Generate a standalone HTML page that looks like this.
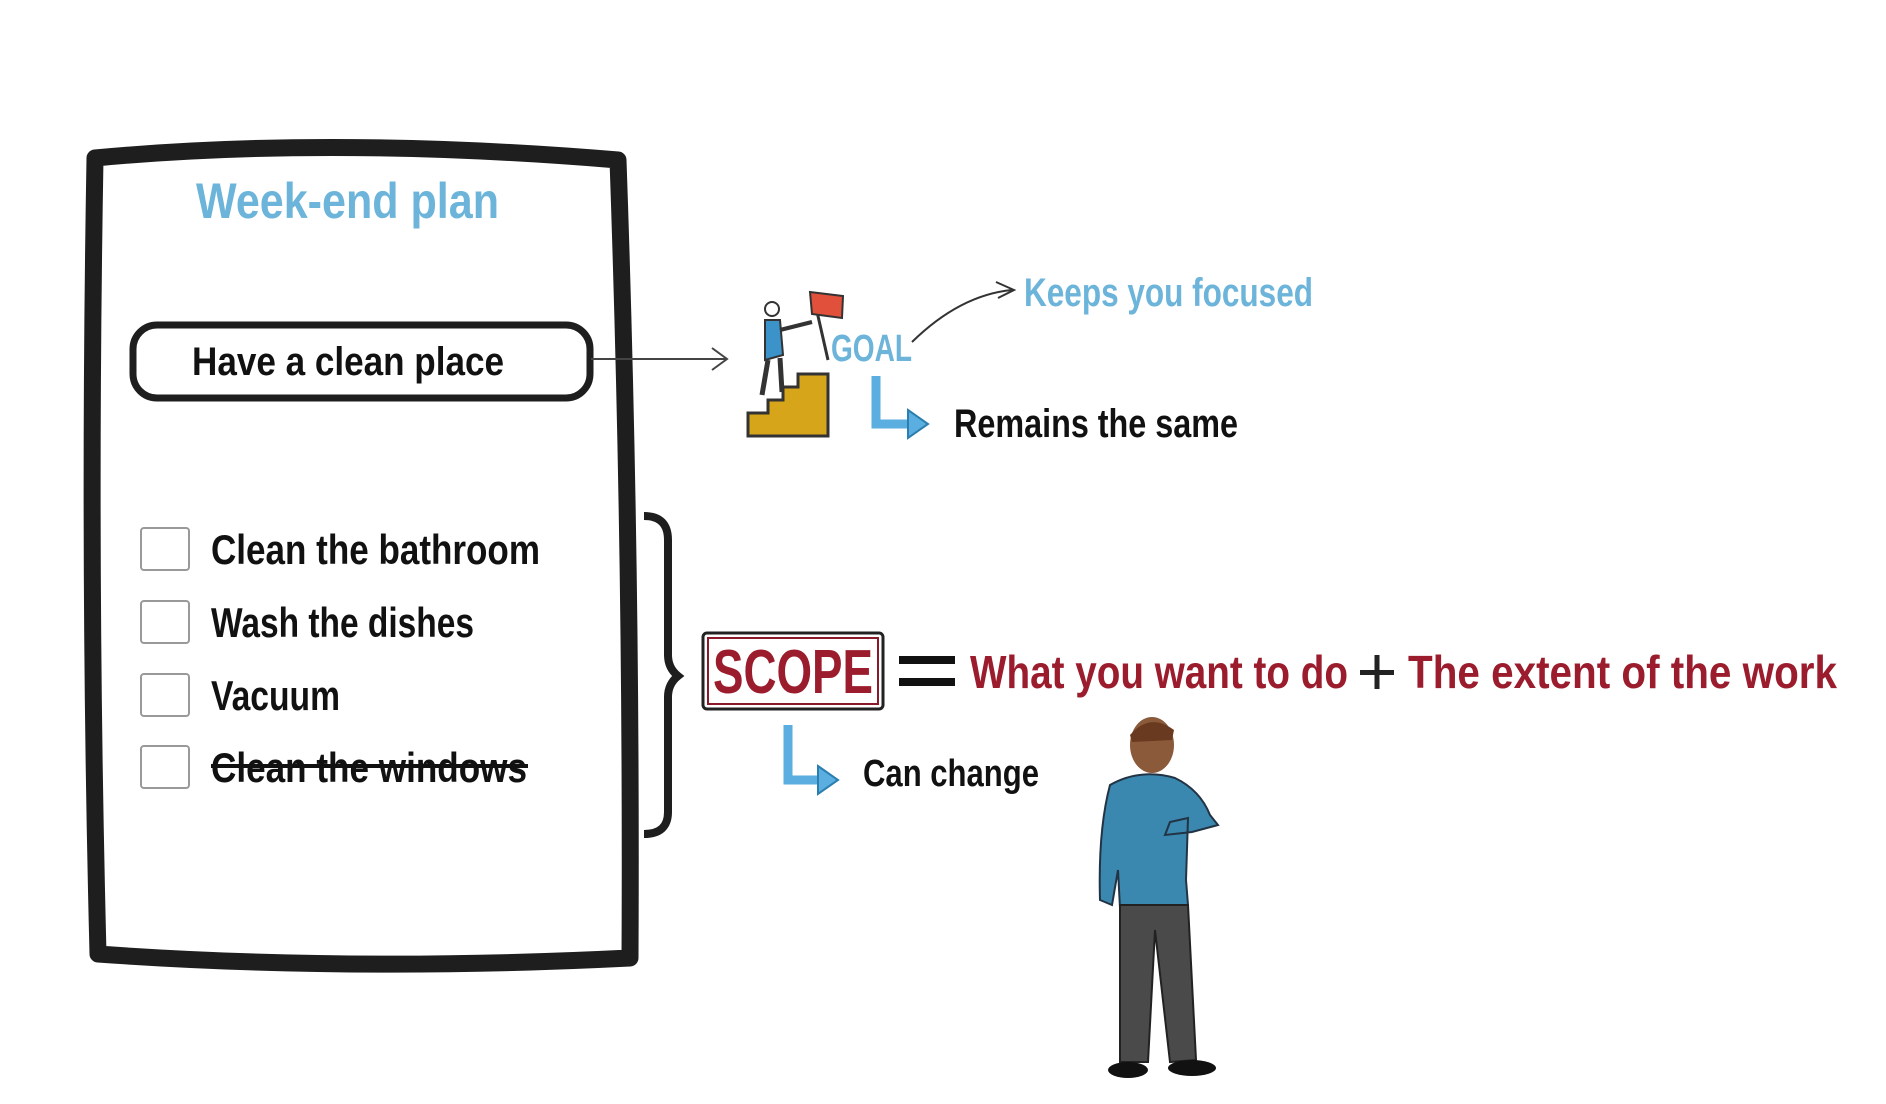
<!DOCTYPE html>
<html><head><meta charset="utf-8"><style>
html,body{margin:0;padding:0;background:#fff;}
svg{display:block}
text{font-family:"Liberation Sans Narrow","Liberation Sans",sans-serif;font-weight:bold;}
</style></head><body>
<svg width="1886" height="1104" viewBox="0 0 1886 1104" xmlns="http://www.w3.org/2000/svg">
<path d="M95 158 Q330 136 618 160 Q632 560 630 958 Q350 972 98 954 Q88 560 95 158 Z" fill="none" stroke="#1e1e1e" stroke-width="17" stroke-linejoin="round"/>
<text x="196" y="218" font-size="50" fill="#6cb4d9" textLength="303" lengthAdjust="spacingAndGlyphs">Week-end plan</text>
<rect x="133" y="325" width="457" height="73" rx="24" fill="#fff" stroke="#1e1e1e" stroke-width="7"/>
<text x="192" y="375" font-size="40" fill="#111" textLength="312" lengthAdjust="spacingAndGlyphs">Have a clean place</text>
<line x1="591" y1="359" x2="726" y2="359" stroke="#444" stroke-width="2"/>
<path d="M712 348 L727 359 L712 370" fill="none" stroke="#444" stroke-width="2"/>
<g fill="#fff" stroke="#999" stroke-width="2">
<rect x="141" y="528" width="48" height="42" rx="3"/>
<rect x="141" y="601" width="48" height="42" rx="3"/>
<rect x="141" y="674" width="48" height="42" rx="3"/>
<rect x="141" y="746" width="48" height="42" rx="3"/>
</g>
<g font-size="42" fill="#111">
<text x="211" y="564" textLength="329" lengthAdjust="spacingAndGlyphs">Clean the bathroom</text>
<text x="211" y="637" textLength="263" lengthAdjust="spacingAndGlyphs">Wash the dishes</text>
<text x="211" y="710" textLength="129" lengthAdjust="spacingAndGlyphs">Vacuum</text>
<text x="211" y="782" textLength="316" lengthAdjust="spacingAndGlyphs">Clean the windows</text>
</g>
<line x1="211" y1="766" x2="528" y2="766" stroke="#111" stroke-width="4"/>
<path d="M644 516 Q668 516 668 540 L668 655 Q668 668 678 676 Q668 684 668 697 L668 812 Q668 834 644 834" fill="none" stroke="#1e1e1e" stroke-width="8"/>
<rect x="703" y="633" width="180" height="76" rx="4" fill="#fff" stroke="#222" stroke-width="3"/>
<rect x="708" y="638" width="170" height="66" fill="none" stroke="#8a1a2a" stroke-width="2"/>
<text x="713" y="693" font-size="62" fill="#9b1c2c" textLength="160" lengthAdjust="spacingAndGlyphs">SCOPE</text>
<rect x="899" y="656" width="56" height="8" fill="#111"/>
<rect x="899" y="678" width="56" height="8" fill="#111"/>
<text x="970" y="688" font-size="46" fill="#9b1c2c" textLength="378" lengthAdjust="spacingAndGlyphs">What you want to do</text>
<rect x="1360" y="670" width="34" height="5" fill="#222"/>
<rect x="1374.5" y="655" width="5" height="34" fill="#222"/>
<text x="1408" y="688" font-size="46" fill="#9b1c2c" textLength="429" lengthAdjust="spacingAndGlyphs">The extent of the work</text>
<path d="M788 725 L788 780 L820 780" fill="none" stroke="#5aaee0" stroke-width="9"/>
<path d="M818 766 L838 780 L818 794 Z" fill="#5aaee0" stroke="#2a7fb0" stroke-width="2"/>
<text x="863" y="786" font-size="38" fill="#111" textLength="176" lengthAdjust="spacingAndGlyphs">Can change</text>
<path d="M748 413 L768 413 L768 400 L783 400 L783 387 L798 387 L798 374 L828 374 L828 436 L748 436 Z" fill="#d7a51a" stroke="#333" stroke-width="3"/>
<circle cx="772" cy="309" r="7" fill="#fff" stroke="#333" stroke-width="2"/>
<path d="M765 320 L780 320 L783 355 L765 360 Z" fill="#3b93c9" stroke="#333" stroke-width="2"/>
<path d="M780 330 L812 322" stroke="#333" stroke-width="4"/>
<path d="M768 360 L762 395 M780 358 L782 392" stroke="#333" stroke-width="5" fill="none"/>
<line x1="813" y1="294" x2="828" y2="360" stroke="#333" stroke-width="3"/>
<path d="M810 292 L843 296 L842 318 L812 314 Z" fill="#e0503a" stroke="#333" stroke-width="2"/>
<text x="831" y="361" font-size="38" fill="#6cb4d9" textLength="81" lengthAdjust="spacingAndGlyphs">GOAL</text>
<path d="M912 342 Q960 295 1012 290" fill="none" stroke="#333" stroke-width="2"/>
<path d="M996 282 L1014 290 L998 298" fill="none" stroke="#333" stroke-width="2"/>
<text x="1024" y="306" font-size="40" fill="#6cb4d9" textLength="289" lengthAdjust="spacingAndGlyphs">Keeps you focused</text>
<path d="M876 376 L876 424 L910 424" fill="none" stroke="#5aaee0" stroke-width="9"/>
<path d="M908 410 L928 424 L908 438 Z" fill="#5aaee0" stroke="#2a7fb0" stroke-width="2"/>
<text x="954" y="437" font-size="40" fill="#111" textLength="284" lengthAdjust="spacingAndGlyphs">Remains the same</text>
<ellipse cx="1152" cy="745" rx="22" ry="28" fill="#8a5a3a"/>
<path d="M1130 735 Q1150 712 1174 730 L1172 740 L1132 742 Z" fill="#6a3a20"/>
<path d="M1110 785 Q1140 768 1175 778 Q1200 790 1210 815 L1218 825 L1192 832 L1165 835 L1170 822 L1188 818 L1186 880 L1188 905 L1120 908 L1118 870 L1112 905 L1100 900 Q1098 830 1110 785 Z" fill="#3a88b0" stroke="#234" stroke-width="2"/>
<path d="M1120 905 L1188 905 L1196 1060 L1170 1062 L1155 930 L1148 1062 L1120 1062 Z" fill="#4a4a4a" stroke="#222" stroke-width="2"/>
<ellipse cx="1128" cy="1070" rx="20" ry="8" fill="#111"/>
<ellipse cx="1192" cy="1068" rx="24" ry="8" fill="#111"/>
</svg>
</body></html>
